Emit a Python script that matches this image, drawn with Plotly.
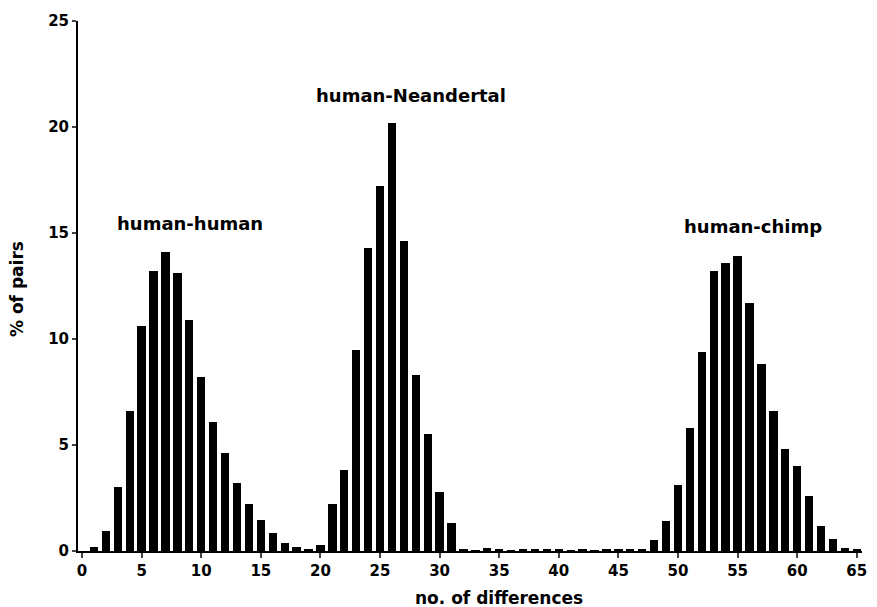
import plotly.graph_objects as go

# number of differences (x) and % of pairs (y) per comparison
hh_x = list(range(1, 21))
hh_y = [0.2, 0.95, 3.0, 6.6, 10.6, 13.2, 14.1, 13.1, 10.9, 8.2, 6.1, 4.6, 3.2, 2.2, 1.45, 0.85, 0.4, 0.2, 0.1, 0.0]

hn_x = list(range(19, 36))
hn_y = [0.1, 0.3, 2.2, 3.8, 9.5, 14.3, 17.2, 20.2, 14.6, 8.3, 5.5, 2.8, 1.3, 0.08, 0.03, 0.15, 0.05]

hc_x = list(range(36, 66))
hc_y = [0.04, 0.05, 0.06, 0.05, 0.05, 0.04, 0.05, 0.04, 0.05, 0.05, 0.06, 0.1, 0.5, 1.4, 3.1, 5.8, 9.4, 13.2, 13.6, 13.9, 11.7, 8.8, 6.6, 4.8, 4.0, 2.6, 1.2, 0.55, 0.15, 0.08]

labels = ["human-human", "human-Neandertal", "human-chimp"]
label_x = [2.75, 19.45, 50.3]   # left edge of each label, in data units
label_y = [15.45, 21.5, 15.3]

x_title = "no. of differences"
y_title = "% of pairs"

x_ticks = list(range(0, 70, 5))
y_ticks = [0, 5, 10, 15, 20, 25]

FONT = "DejaVu Sans, Liberation Sans, sans-serif"

fig = go.Figure()
for xs, ys in [(hh_x, hh_y), (hn_x, hn_y), (hc_x, hc_y)]:
    fig.add_trace(go.Bar(x=xs, y=ys, width=0.7, marker=dict(color="black", line=dict(width=0)),
                         showlegend=False))

for t, lx, ly in zip(labels, label_x, label_y):
    fig.add_annotation(x=lx, y=ly, text="<b>" + t + "</b>", showarrow=False,
                       xanchor="left", yanchor="middle",
                       font=dict(family=FONT, size=18, color="black"))

fig.add_annotation(x=35.0, xref="x", y=-0.089, yref="paper", text="<b>" + x_title + "</b>",
                   showarrow=False, xanchor="center", yanchor="middle",
                   font=dict(family=FONT, size=17, color="black"))
fig.add_annotation(x=-0.078, xref="paper", y=0.494, yref="paper", text="<b>" + y_title + "</b>",
                   showarrow=False, textangle=-90, xanchor="center", yanchor="middle",
                   font=dict(family=FONT, size=17, color="black"))

fig.update_layout(
    width=877, height=607,
    margin=dict(l=70, r=23, t=13, b=64, autoexpand=False),
    plot_bgcolor="white", paper_bgcolor="white",
    barmode="overlay", bargap=0,
    font=dict(family=FONT, size=15, color="black"),
    xaxis=dict(range=[-0.34, 65.44], tickvals=x_ticks, ticks="outside", ticklen=5, tickwidth=2,
               showline=True, linecolor="black", linewidth=2, showgrid=False, zeroline=False,
               automargin=False,
               tickfont=dict(family=FONT, size=15, color="black", weight="bold")),
    yaxis=dict(range=[0, 25], tickvals=y_ticks, ticks="outside", ticklen=4, tickwidth=2,
               showline=True, linecolor="black", linewidth=2, showgrid=False, zeroline=False,
               automargin=False,
               tickfont=dict(family=FONT, size=15, color="black", weight="bold")),
)

fig.write_html("out.html")
